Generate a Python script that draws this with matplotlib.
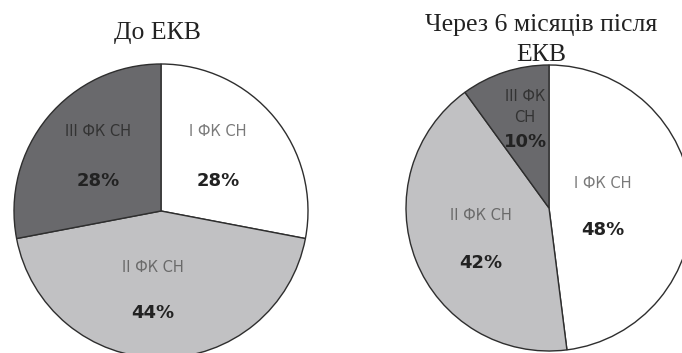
import matplotlib
matplotlib.use("Agg")
import matplotlib.pyplot as plt

# Functional class distribution of heart failure, before and 6 months after ECV
classes = ["I ФК СН", "II ФК СН", "III ФК СН"]
before_values = [28, 44, 28]
after_values = [48, 42, 10]
titles = ["До ЕКВ", "Через 6 місяців після\nЕКВ"]

slice_colors = ["#ffffff", "#c1c1c3", "#69696c"]
name_colors = ["#7a7a7a", "#6a6a6a", "#333333"]

W, H = 682, 353
fig = plt.figure(figsize=(W / 100, H / 100), dpi=100)
ax = fig.add_axes([0, 0, 1, 1])

wedge_style = dict(edgecolor="#2e2e2e", linewidth=1.0)

# Left pie
ax.pie(before_values, colors=slice_colors, startangle=90, counterclock=False,
       center=(161, H - 211), radius=147, wedgeprops=wedge_style, frame=True)
# Right pie
ax.pie(after_values, colors=slice_colors, startangle=90, counterclock=False,
       center=(549, H - 208), radius=143, wedgeprops=wedge_style, frame=True)
ax.set_xlim(0, W)
ax.set_ylim(0, H)
ax.set_aspect("equal")
ax.axis("off")

name_kw = dict(ha="center", va="center", fontsize=10.5, family="DejaVu Sans")
pct_kw = dict(ha="center", va="center", fontsize=13, fontweight="bold",
              color="#222222", family="DejaVu Sans")

# Left pie labels: (name xy, percent xy)
left_pos = [((218, 132), (218, 181)),
            ((153, 267), (153, 313)),
            ((98, 132), (98, 181))]
for i, ((nx, ny), (px, py)) in enumerate(left_pos):
    ax.text(nx, H - ny, classes[i], color=name_colors[i], **name_kw)
    ax.text(px, H - py, f"{before_values[i]}%", **pct_kw)

# Right pie labels
right_pos = [((603, 183), (603, 230)),
             ((481, 215), (481, 263))]
for i, ((nx, ny), (px, py)) in enumerate(right_pos):
    ax.text(nx, H - ny, classes[i], color=name_colors[i], **name_kw)
    ax.text(px, H - py, f"{after_values[i]}%", **pct_kw)
# Narrow third slice: name wraps onto two lines
ax.text(525, H - 107, classes[2].replace(" СН", "\nСН"), color=name_colors[2],
        linespacing=1.45, **name_kw)
ax.text(525, H - 142, f"{after_values[2]}%", **pct_kw)

title_kw = dict(ha="center", va="center", fontsize=18.5, family="Liberation Serif",
                color="#222222")
ax.text(157, H - 33, titles[0], **title_kw)
ax.text(541, H - 40, titles[1], linespacing=1.42, **title_kw)

fig.savefig("out.png", dpi=100)
